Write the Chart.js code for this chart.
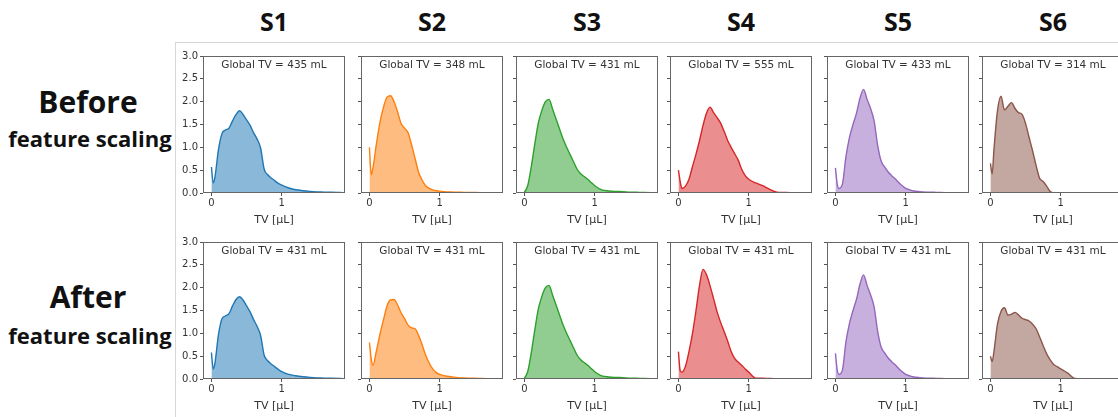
<!DOCTYPE html>
<html>
<head>
<meta charset="utf-8">
<script src="https://cdn.jsdelivr.net/npm/chart.js@4.4.1/dist/chart.umd.min.js"></script>
<style>
  html, body { margin: 0; padding: 0; background: #fff; overflow: hidden; width: 1118px; height: 417px; }
  #wrap { position: relative; width: 1118px; height: 417px; font-family: "Open Sans", sans-serif; color: #111; }
  .frame { position: absolute; left: 175px; top: 42px; width: 1000px; height: 420px; border-left: 1px solid #d8d8d8; border-top: 1px solid #d8d8d8; }
  .lbl { position: absolute; transform: translate(-50%, -50%); font-weight: 700; white-space: nowrap; line-height: 1; }
  canvas { position: absolute; }
</style>
</head>
<body>
<div id="wrap">
  <div class="frame"></div>
</div>
<script>
// Subjects, colours and global tidal volumes
const subjects = ['S1', 'S2', 'S3', 'S4', 'S5', 'S6'];
const colours = ['#1f77b4', '#ff7f0e', '#2ca02c', '#d62728', '#9467bd', '#8c564b'];
const tvBefore = [435, 348, 431, 555, 433, 314];
const tvAfter = [431, 431, 431, 431, 431, 431];

// TV grid [µL] and axis ticks
const tvGrid = [0, 0.025, 0.05, 0.1, 0.15, 0.2, 0.25, 0.3, 0.35, 0.4, 0.45, 0.5, 0.55, 0.6, 0.65, 0.7, 0.75, 0.8, 0.85, 0.9, 0.95, 1.0, 1.1, 1.2, 1.3, 1.4, 1.5, 1.6, 1.7, 1.85];
const xTicks = [0, 1];
const yTicks = [0, 0.5, 1, 1.5, 2, 2.5, 3];

// density, before feature scaling
const s1Before = [0.57, 0.22, 0.35, 0.95, 1.3, 1.38, 1.42, 1.58, 1.72, 1.8, 1.72, 1.6, 1.48, 1.32, 1.18, 0.98, 0.52, 0.4, 0.33, 0.27, 0.21, 0.17, 0.11, 0.07, 0.05, 0.035, 0.025, 0.02, 0.015, 0.01];
const s2Before = [1.0, 0.4, 0.55, 1.08, 1.55, 1.88, 2.1, 2.13, 2.0, 1.78, 1.52, 1.42, 1.32, 1.05, 0.75, 0.45, 0.28, 0.16, 0.1, 0.07, 0.05, 0.04, 0.025, 0.02, 0.015, 0.01, 0.01, 0.008, 0.005, 0.003];
const s3Before = [0.02, 0.08, 0.18, 0.6, 1.1, 1.55, 1.82, 2.0, 2.05, 1.84, 1.62, 1.4, 1.18, 1.0, 0.84, 0.68, 0.52, 0.42, 0.36, 0.3, 0.23, 0.16, 0.07, 0.045, 0.035, 0.03, 0.02, 0.015, 0.01, 0.005];
const s4Before = [0.5, 0.25, 0.1, 0.15, 0.3, 0.58, 0.85, 1.15, 1.48, 1.75, 1.88, 1.76, 1.65, 1.53, 1.35, 1.15, 1.0, 0.86, 0.72, 0.52, 0.38, 0.3, 0.22, 0.16, 0.08, 0.02, 0.012, 0.008, 0.005, 0.003];
const s5Before = [0.55, 0.2, 0.1, 0.2, 0.8, 1.22, 1.5, 1.75, 2.08, 2.27, 2.05, 1.85, 1.58, 1.05, 0.7, 0.57, 0.46, 0.38, 0.31, 0.23, 0.16, 0.1, 0.05, 0.03, 0.02, 0.015, 0.01, 0.008, 0.005, 0.003];
const s6Before = [0.65, 0.42, 0.95, 1.8, 2.12, 1.82, 1.9, 1.98, 1.85, 1.76, 1.72, 1.52, 1.22, 0.92, 0.6, 0.32, 0.25, 0.15, 0.03, 0.005, 0, 0, 0, 0, 0, 0, 0, 0, 0, 0];

// density, after feature scaling
const s1After = [0.58, 0.22, 0.35, 0.97, 1.32, 1.38, 1.43, 1.6, 1.74, 1.8, 1.73, 1.6, 1.47, 1.3, 1.15, 0.95, 0.52, 0.4, 0.33, 0.27, 0.21, 0.16, 0.1, 0.07, 0.05, 0.035, 0.025, 0.02, 0.015, 0.01];
const s2After = [0.8, 0.45, 0.3, 0.62, 0.98, 1.3, 1.6, 1.73, 1.74, 1.62, 1.45, 1.32, 1.18, 1.12, 1.1, 0.95, 0.75, 0.52, 0.35, 0.22, 0.14, 0.1, 0.06, 0.04, 0.025, 0.02, 0.015, 0.01, 0.008, 0.005];
const s3After = [0.02, 0.08, 0.18, 0.6, 1.1, 1.55, 1.82, 2.0, 2.05, 1.84, 1.62, 1.4, 1.18, 1.0, 0.84, 0.68, 0.52, 0.42, 0.36, 0.3, 0.23, 0.16, 0.07, 0.045, 0.035, 0.03, 0.02, 0.015, 0.01, 0.005];
const s4After = [0.6, 0.18, 0.15, 0.28, 0.6, 1.0, 1.5, 2.05, 2.4, 2.28, 2.04, 1.76, 1.47, 1.24, 1.04, 0.83, 0.6, 0.45, 0.37, 0.3, 0.22, 0.15, 0.02, 0.015, 0.01, 0.008, 0.006, 0.005, 0.004, 0.003];
const s5After = [0.56, 0.2, 0.1, 0.2, 0.82, 1.22, 1.5, 1.75, 2.08, 2.28, 2.05, 1.84, 1.58, 1.05, 0.7, 0.57, 0.46, 0.38, 0.31, 0.23, 0.16, 0.1, 0.05, 0.03, 0.02, 0.015, 0.01, 0.008, 0.005, 0.003];
const s6After = [0.5, 0.38, 0.6, 1.2, 1.48, 1.56, 1.4, 1.42, 1.46, 1.4, 1.33, 1.3, 1.27, 1.2, 1.1, 0.92, 0.73, 0.55, 0.42, 0.32, 0.27, 0.22, 0.13, 0.01, 0, 0, 0, 0, 0, 0];

const rows = [
    { name: 'Before', tv: tvBefore, series: [s1Before, s2Before, s3Before, s4Before, s5Before, s6Before] },
    { name: 'After', tv: tvAfter, series: [s1After, s2After, s3After, s4After, s5After, s6After] }
];

// layout of the panel grid (pixels)
const colLeft = [203, 361, 516, 670, 827, 982];
const rowTop = [54, 240];
const plotW = 142, plotH = 139;
const yAxisW = 30, xAxisH = 34, padTop = 6, padRight = 4;

function hexA(hex, a) {
    const n = parseInt(hex.slice(1), 16);
    return `rgba(${n >> 16}, ${(n >> 8) & 255}, ${n & 255}, ${a})`;
}

// box round the plot and the "Global TV" note
const panelFrame = {
    id: 'panelFrame',
    afterDraw(chart, args, opts) {
        const { ctx, chartArea: a } = chart;
        ctx.save();
        ctx.strokeStyle = '#666';
        ctx.lineWidth = 1;
        ctx.strokeRect(Math.round(a.left) + 0.5, Math.round(a.top) + 0.5, Math.round(a.right - a.left) - 1, Math.round(a.bottom - a.top) - 1);
        ctx.fillStyle = '#333';
        ctx.font = '10.5px "DejaVu Sans"';
        ctx.textAlign = 'center';
        ctx.textBaseline = 'middle';
        ctx.fillText(opts.text, (a.left + a.right) / 2, a.top + 9);
        ctx.restore();
    }
};

const wrap = document.getElementById('wrap');

function addLabel(text, x, y, size) {
    const d = document.createElement('div');
    d.className = 'lbl';
    d.textContent = text;
    d.style.left = x + 'px';
    d.style.top = y + 'px';
    d.style.fontSize = size + 'px';
    wrap.appendChild(d);
}

subjects.forEach((s, c) => addLabel(s, colLeft[c] + plotW / 2, 21, 25));
addLabel('Before', 88, 102, 30);
addLabel('feature scaling', 90, 138, 22);
addLabel('After', 88, 297, 30);
addLabel('feature scaling', 90, 335, 22);

rows.forEach((row, r) => {
    row.series.forEach((vals, c) => {
        const cv = document.createElement('canvas');
        const w = yAxisW + plotW + padRight;
        const h = padTop + plotH + xAxisH;
        cv.width = w;
        cv.height = h;
        cv.style.left = (colLeft[c] - yAxisW) + 'px';
        cv.style.top = (rowTop[r] - padTop) + 'px';
        cv.style.width = w + 'px';
        cv.style.height = h + 'px';
        wrap.appendChild(cv);

        new Chart(cv.getContext('2d'), {
            type: 'line',
            data: {
                datasets: [{
                    data: tvGrid.map((x, i) => ({ x: x, y: vals[i] })),
                    borderColor: colours[c],
                    backgroundColor: hexA(colours[c], 0.52),
                    borderWidth: 1.4,
                    pointRadius: 0,
                    fill: 'origin',
                    cubicInterpolationMode: 'monotone'
                }]
            },
            options: {
                responsive: false,
                animation: false,
                layout: { padding: { top: padTop, right: padRight, left: 0, bottom: 0 } },
                plugins: {
                    legend: { display: false },
                    tooltip: { enabled: false },
                    panelFrame: { text: `Global TV = ${row.tv[c]} mL` }
                },
                scales: {
                    x: {
                        type: 'linear',
                        min: -0.12,
                        max: 1.9,
                        afterBuildTicks: sc => { sc.ticks = xTicks.map(v => ({ value: v })); },
                        afterFit: sc => { sc.height = xAxisH; },
                        grid: { drawOnChartArea: false, tickLength: 3, color: '#555' },
                        border: { display: false },
                        ticks: {
                            padding: 1,
                            color: '#333',
                            maxRotation: 0,
                            autoSkip: false,
                            font: { size: 10, family: 'DejaVu Sans' },
                            callback: v => String(v)
                        },
                        title: {
                            display: true,
                            text: 'TV [µL]',
                            color: '#333',
                            font: { size: 11, family: 'DejaVu Sans' },
                            padding: { top: 2, bottom: 0 }
                        }
                    },
                    y: {
                        min: 0,
                        max: 3,
                        afterBuildTicks: sc => { sc.ticks = yTicks.map(v => ({ value: v })); },
                        afterFit: sc => { sc.width = yAxisW; },
                        grid: { drawOnChartArea: false, tickLength: 3, color: '#555' },
                        border: { display: false },
                        ticks: {
                            padding: 2,
                            color: '#333',
                            font: { size: 10, family: 'DejaVu Sans' },
                            callback: v => c === 0 ? Number(v).toFixed(1) : ''
                        }
                    }
                }
            },
            plugins: [panelFrame]
        });
    });
});
</script>
</body>
</html>
